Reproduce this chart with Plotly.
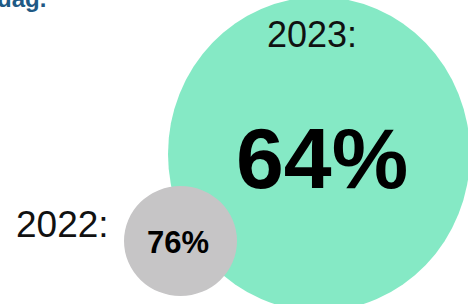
import plotly.graph_objects as go

# Data
years = ["2022", "2023"]
values = [76, 64]
labels = [f"{y}:" for y in years]
value_text = [f"{v}%" for v in values]
title_fragment = "uag."

W, H = 468, 304
FONT = "Liberation Sans, Arial, Helvetica, sans-serif"

fig = go.Figure()
# invisible trace to establish axes
fig.add_trace(go.Scatter(x=[0, W], y=[0, H], mode="markers",
                         marker=dict(opacity=0), hoverinfo="skip", showlegend=False))

# circle geometry (layout only)
circles = {
    "2023": dict(cx=319, cy=H - 154, rx=151, ry=157, color="#85E9C5"),
    "2022": dict(cx=180.5, cy=H - 241, rx=56.5, ry=55, color="#C6C5C6"),
}
for yr in ["2023", "2022"]:
    c = circles[yr]
    fig.add_shape(type="circle", xref="x", yref="y",
                  x0=c["cx"] - c["rx"], x1=c["cx"] + c["rx"],
                  y0=c["cy"] - c["ry"], y1=c["cy"] + c["ry"],
                  fillcolor=c["color"], line=dict(width=0), layer="below")

# text
fig.add_annotation(x=312, y=H - 34, text=labels[1], showarrow=False,
                   font=dict(family=FONT, size=36, color="#111111"))
fig.add_annotation(x=322, y=H - 158, text=f"<b>{value_text[1]}</b>", showarrow=False,
                   font=dict(family=FONT, size=86, color="#000000"))
fig.add_annotation(x=62, y=H - 224, text=labels[0], showarrow=False,
                   font=dict(family=FONT, size=37, color="#111111"))
fig.add_annotation(x=178, y=H - 242, text=f"<b>{value_text[0]}</b>", showarrow=False,
                   font=dict(family=FONT, size=31, color="#000000"))
fig.add_annotation(x=0, y=1, xref="paper", yref="paper", xanchor="left", yanchor="bottom",
                   xshift=-5, yshift=-14, text=f"<b>{title_fragment}</b>",
                   showarrow=False, font=dict(family=FONT, size=24, color="#1F5A85"))

fig.update_xaxes(range=[0, W], visible=False, fixedrange=True)
fig.update_yaxes(range=[0, H], visible=False, fixedrange=True)
fig.update_layout(width=W, height=H, margin=dict(l=0, r=0, t=0, b=0),
                  paper_bgcolor="white", plot_bgcolor="white", showlegend=False)

fig.write_html("out.html", config={"displayModeBar": False},
               post_script="document.body.style.margin='0';document.body.style.overflow='hidden';")
